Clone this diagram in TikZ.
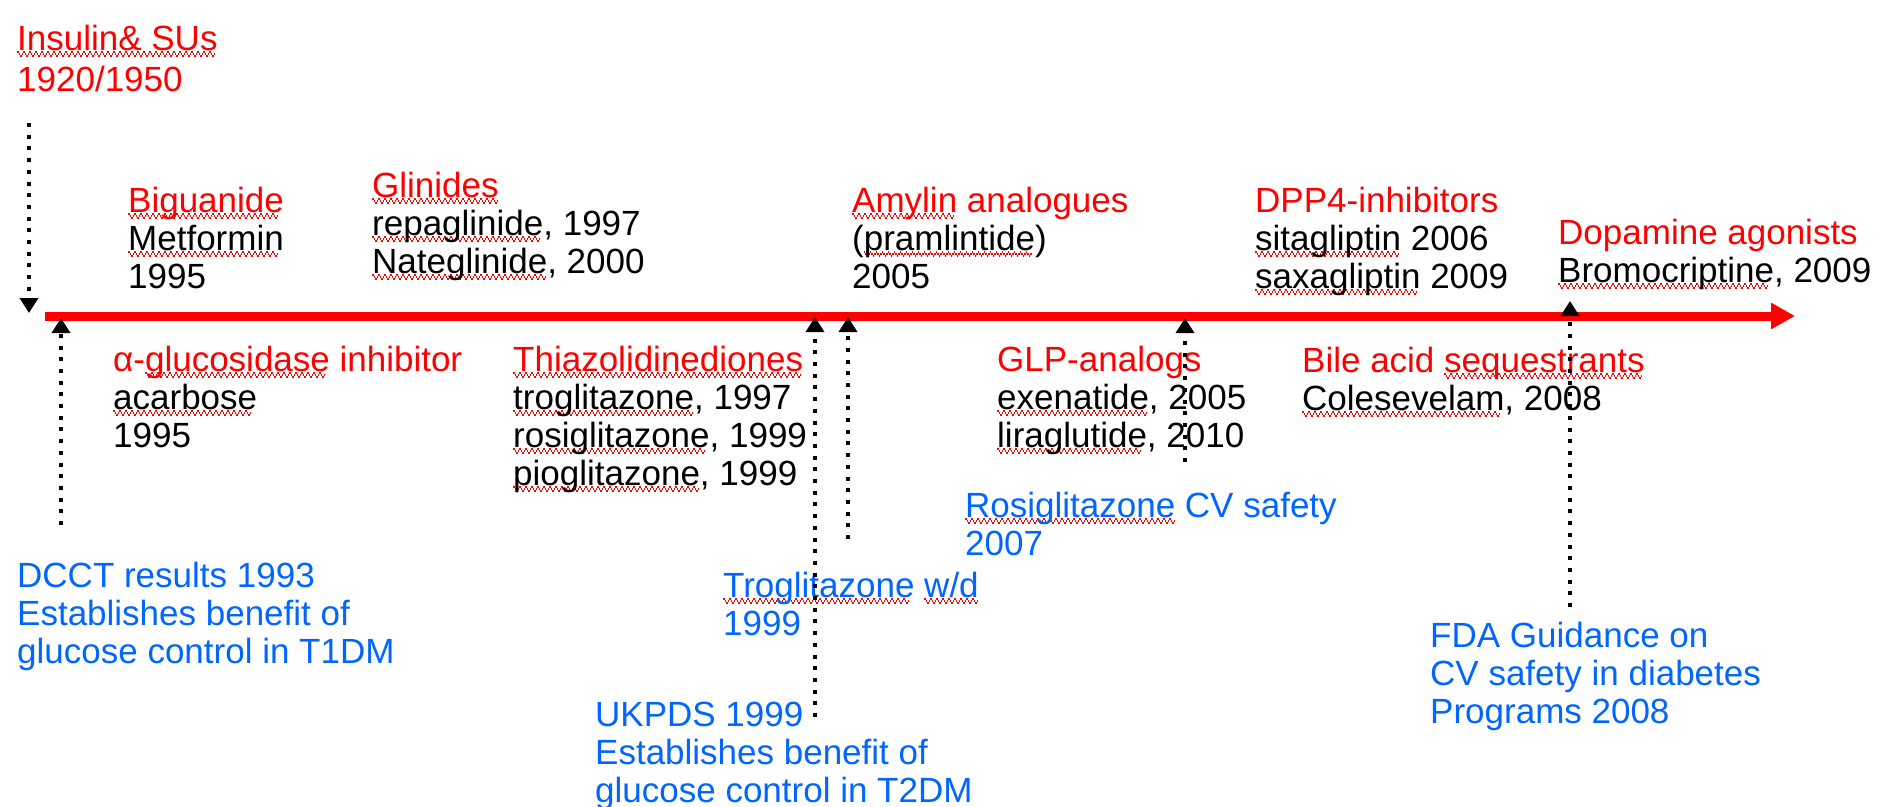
\documentclass[tikz,border=0pt]{standalone}
\usepackage{fontspec}
\setmainfont{Liberation Sans}
\usetikzlibrary{arrows.meta}

\definecolor{drugred}{RGB}{255,0,0}
\definecolor{trialblue}{RGB}{0,102,255}

% red wavy underline of the spell checker
\newlength\squiglen
\newcommand\squigmark{\textcolor{drugred}{\rule[-3.2pt]{1.5pt}{2.2pt}\rule[-5.2pt]{1.5pt}{2.2pt}\rule[-7.4pt]{1.5pt}{2.2pt}\rule[-5.2pt]{1.5pt}{2.2pt}}}
\newcommand\squig[1]{\settowidth{\squiglen}{#1}\rlap{\hbox to \squiglen{\leaders\hbox{\squigmark}\hfil}}#1}

\begin{document}
\begin{tikzpicture}[x=1pt,y=-1pt,
  txt/.style={anchor=base west,inner sep=0pt,align=left,font=\fontsize{35}{38}\selectfont},
  drug/.style={txt,text=black},
  trial/.style={txt,text=trialblue},
  marker/.style={black,line width=3.5pt,dash pattern=on 4pt off 7.7pt,-{Triangle[length=15pt,width=18pt]}}]

\useasboundingbox (0,0) rectangle (1882,806);

% the time line
\coordinate (tstart) at (45,316);
\coordinate (tend) at (1795,316);
\draw[drugred,line width=9pt,-{Triangle[length=24pt,width=25pt]}] (tstart) -- (tend);

% drug classes above the line (placed at the baseline of their last line)
\node[drug,font=\fontsize{35}{41}\selectfont,text=drugred] (insulin) at (17,91) {\squig{Insulin\& SUs}\\1920/1950};
\node[drug] (biguanide) at (128,288) {\textcolor{drugred}{\squig{Biguanide}}\\\squig{Metformin}\\1995};
\node[drug] (glinides) at (372,273) {\textcolor{drugred}{\squig{Glinides}}\\\squig{repaglinide}, 1997\\\squig{Nateglinide}, 2000};
\node[drug] (amylin) at (852,288) {\textcolor{drugred}{\squig{Amylin} analogues}\\(\squig{pramlintide})\\2005};
\node[drug] (dpp4) at (1255,288) {\textcolor{drugred}{DPP4-inhibitors}\\\squig{sitagliptin} 2006\\\squig{saxagliptin} 2009};
\node[drug] (dopamine) at (1558,282) {\textcolor{drugred}{Dopamine agonists}\\\squig{Bromocriptine}, 2009};

% drug classes below the line
\node[drug] (glucosidase) at (113,447) {\textcolor{drugred}{α-\squig{glucosidase} inhibitor}\\\squig{acarbose}\\1995};
\node[drug] (tzd) at (513,485) {\textcolor{drugred}{\squig{Thiazolidinediones}}\\\squig{troglitazone}, 1997\\\squig{rosiglitazone}, 1999\\\squig{pioglitazone}, 1999};
\node[drug] (glp) at (997,447) {\textcolor{drugred}{GLP-analogs}\\\squig{exenatide}, 2005\\\squig{liraglutide}, 2010};
\node[drug] (bile) at (1302,410) {\textcolor{drugred}{Bile acid \squig{sequestrants}}\\\squig{Colesevelam}, 2008};

% trials and safety events
\node[trial] (dcct) at (17,663) {DCCT results 1993\\Establishes benefit of\\glucose control in T1DM};
\node[trial] (ukpds) at (595,802) {UKPDS 1999\\Establishes benefit of\\glucose control in T2DM};
\node[trial] (trogwd) at (723,635) {\squig{Troglitazone} \squig{w/d}\\1999};
\node[trial] (rosicv) at (965,555) {\squig{Rosiglitazone} CV safety\\2007};
\node[trial] (fda) at (1430,723) {FDA Guidance on\\CV safety in diabetes\\Programs 2008};

% dotted markers onto the line
\coordinate (insulinfoot) at (29,123);
\coordinate (insulintip) at (29,313);
\coordinate (dcctfoot) at (61,525);
\coordinate (dccttip) at (61,318);
\coordinate (ukpdsfoot) at (815,717);
\coordinate (ukpdstip) at (815,317);
\coordinate (trogfoot) at (848,539);
\coordinate (trogtip) at (848,317);
\coordinate (rosifoot) at (1185,462);
\coordinate (rositip) at (1185,318);
\coordinate (fdafoot) at (1570,607);
\coordinate (fdatip) at (1570,301);

\draw[marker] (insulinfoot) -- (insulintip);
\draw[marker] (dcctfoot) -- (dccttip);
\draw[marker] (ukpdsfoot) -- (ukpdstip);
\draw[marker] (trogfoot) -- (trogtip);
\draw[marker] (rosifoot) -- (rositip);
\draw[marker] (fdafoot) -- (fdatip);

\end{tikzpicture}
\end{document}
